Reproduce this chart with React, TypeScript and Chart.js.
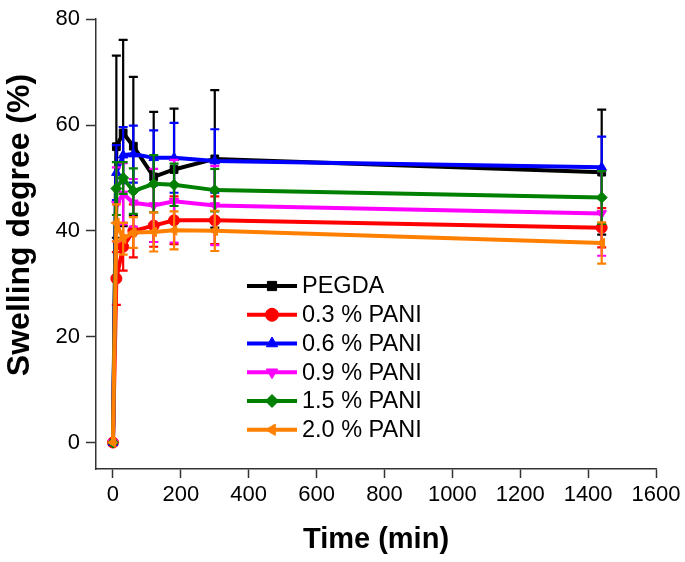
import { useEffect, useRef } from 'react';
import { Chart, registerables } from 'chart.js';
import { drawPoint } from 'chart.js/helpers';

Chart.register(...registerables);

// ---- data ----
const times = [0, 10, 30, 60, 120, 180, 300, 1440];
const seriesLabels = ['PEGDA', '0.3 % PANI', '0.6 % PANI', '0.9 % PANI', '1.5 % PANI', '2.0 % PANI'];
const pegdaMean = [0, 55.9, 58.5, 56.0, 50.2, 51.6, 53.6, 51.1];
const pegdaSd = [0, 17.2, 17.6, 13.1, 12.3, 11.5, 13.0, 11.8];
const pani03Mean = [0, 31.0, 37.0, 40.0, 41.0, 42.0, 42.0, 40.6];
const pani03Sd = [0, 5.0, 4.5, 5.0, 4.0, 4.5, 4.5, 3.7];
const pani06Mean = [0, 51.0, 54.3, 54.5, 53.8, 53.8, 53.2, 52.0];
const pani06Sd = [0, 5.2, 5.3, 5.4, 5.2, 6.6, 6.0, 5.8];
const pani09Mean = [0, 45.0, 47.0, 45.3, 44.8, 45.6, 44.8, 43.3];
const pani09Sd = [0, 7.0, 5.8, 4.5, 6.9, 7.8, 7.5, 8.0];
const pani15Mean = [0, 48.0, 50.0, 47.5, 48.9, 48.7, 47.7, 46.3];
const pani15Sd = [0, 5.0, 3.0, 4.3, 5.4, 4.0, 4.0, 5.0];
const pani20Mean = [0, 41.5, 38.5, 39.7, 39.8, 40.1, 40.0, 37.7];
const pani20Sd = [0, 3.5, 3.0, 2.9, 3.7, 3.6, 3.8, 3.9];
const xTickValues = [0, 200, 400, 600, 800, 1000, 1200, 1400, 1600];
const yTickValues = [0, 20, 40, 60, 80];
const xTitle = 'Time (min)';
const yTitle = 'Swelling degree (%)';

const means = [pegdaMean, pani03Mean, pani06Mean, pani09Mean, pani15Mean, pani20Mean];
const sds = [pegdaSd, pani03Sd, pani06Sd, pani09Sd, pani15Sd, pani20Sd];
const colors = ['#000000', '#ff0000', '#0000ff', '#ff00ff', '#008000', '#ff8000'];
const pointStyles = ['rect', 'circle', 'triangle', 'triangle', 'rectRot', 'triangle'];
const rotations = [0, 0, 0, 180, 0, 270];

const FONT = '"Liberation Sans", Arial, sans-serif';

const errorBarPlugin = {
  id: 'errorBars',
  afterDatasetDraw(chart: any, args: any) {
    const i = args.index;
    const meta = args.meta;
    const y = chart.scales.y;
    const ctx = chart.ctx;
    const m = means[i];
    const s = sds[i];
    ctx.save();
    ctx.strokeStyle = colors[i];
    ctx.lineWidth = 2.2;
    const cap = 4.5;
    meta.data.forEach((pt: any, k: number) => {
      const x = pt.x;
      const yt = y.getPixelForValue(m[k] + s[k]);
      const yb = y.getPixelForValue(m[k] - s[k]);
      ctx.beginPath();
      ctx.moveTo(x, yt);
      ctx.lineTo(x, yb);
      ctx.moveTo(x - cap, yt);
      ctx.lineTo(x + cap, yt);
      ctx.moveTo(x - cap, yb);
      ctx.lineTo(x + cap, yb);
      ctx.stroke();
    });
    ctx.restore();
  },
};

const legendAndTitlePlugin = {
  id: 'customLegend',
  afterDraw(chart: any) {
    const ctx = chart.ctx;
    const x0 = 247;
    const x1 = 297;
    const y0 = 286;
    const rowH = 28.75;
    ctx.save();
    seriesLabels.forEach((label, i) => {
      const yy = y0 + i * rowH;
      ctx.strokeStyle = colors[i];
      ctx.lineWidth = 4;
      ctx.beginPath();
      ctx.moveTo(x0, yy);
      ctx.lineTo(x1, yy);
      ctx.stroke();
      ctx.fillStyle = colors[i];
      ctx.lineWidth = 1;
      drawPoint(ctx, { pointStyle: pointStyles[i] as any, radius: 6.5, rotation: rotations[i], borderWidth: 1 }, (x0 + x1) / 2, yy);
      ctx.fillStyle = '#000';
      ctx.font = `23.5px ${FONT}`;
      ctx.textBaseline = 'middle';
      ctx.textAlign = 'left';
      ctx.fillText(label, x1 + 5, yy + 1);
    });
    // y-axis title
    ctx.translate(20, 225);
    ctx.rotate(-Math.PI / 2);
    ctx.font = `bold 32px ${FONT}`;
    ctx.textAlign = 'center';
    ctx.textBaseline = 'middle';
    ctx.fillStyle = '#000';
    ctx.fillText(yTitle, 0, 0);
    ctx.restore();
  },
};

export default function App() {
  const ref = useRef<HTMLCanvasElement | null>(null);
  useEffect(() => {
    if (!ref.current) return;
    const datasets = seriesLabels.map((label, i) => ({
      label,
      data: times.map((t, k) => ({ x: t, y: means[i][k] })),
      borderColor: colors[i],
      backgroundColor: colors[i],
      pointBackgroundColor: colors[i],
      pointBorderColor: colors[i],
      borderWidth: 4,
      pointStyle: pointStyles[i],
      rotation: rotations[i],
      pointRadius: 5.5,
      pointBorderWidth: 1,
      order: seriesLabels.length - i,
      tension: 0,
    }));
    const chart = new Chart(ref.current, {
      type: 'line',
      data: { datasets: datasets as any },
      plugins: [errorBarPlugin, legendAndTitlePlugin],
      options: {
        animation: false,
        responsive: false,
        layout: { padding: { left: 0, top: 14, right: 29, bottom: 0 } },
        plugins: { legend: { display: false }, tooltip: { enabled: false } },
        scales: {
          x: {
            type: 'linear',
            min: -50,
            max: 1600,
            afterFit: (s: any) => { s.height = 93; },
            afterBuildTicks: (s: any) => { s.ticks = xTickValues.map((v) => ({ value: v })); },
            grid: { display: true, drawOnChartArea: false, drawTicks: true, tickLength: 9, tickColor: '#333', tickWidth: 1.5 },
            border: { display: true, color: '#333', width: 1.5 },
            ticks: { color: '#000', font: { family: FONT, size: 22 }, padding: 4, maxRotation: 0, autoSkip: false, callback: (v: any) => String(v) },
            title: { display: true, text: xTitle, color: '#000', font: { family: FONT, size: 29, weight: 'bold', lineHeight: 1.2 }, padding: { top: 0, bottom: 5 } },
          },
          y: {
            type: 'linear',
            min: -5,
            max: 80,
            afterFit: (s: any) => { s.width = 96; },
            afterBuildTicks: (s: any) => { s.ticks = yTickValues.map((v) => ({ value: v })); },
            grid: { display: true, drawOnChartArea: false, drawTicks: true, tickLength: 10, tickColor: '#333', tickWidth: 1.5 },
            border: { display: true, color: '#333', width: 1.5 },
            ticks: { color: '#000', font: { family: FONT, size: 22 }, padding: 6, callback: (v: any) => String(v) },
            title: { display: false },
          },
        },
      } as any,
    });
    return () => chart.destroy();
  }, []);
  return (
    <div style={{ position: 'fixed', left: 0, top: 0, width: 685, height: 562, background: '#fff' }}>
      <canvas ref={ref} width={685} height={562} style={{ display: 'block' }} />
    </div>
  );
}
